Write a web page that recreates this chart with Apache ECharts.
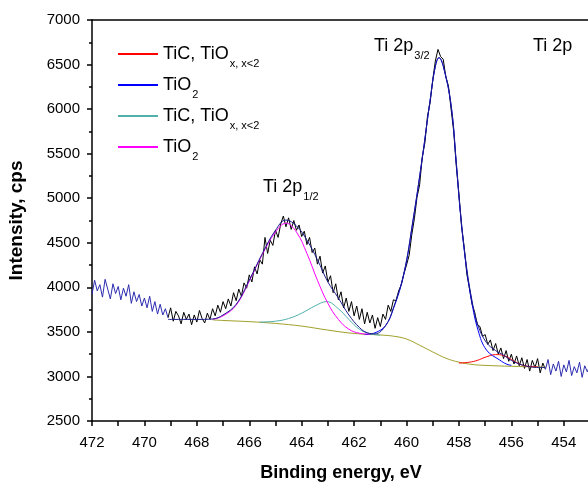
<!DOCTYPE html>
<html>
<head>
<meta charset="utf-8">
<script src="https://cdn.jsdelivr.net/npm/echarts@6/dist/echarts.min.js"></script>
<style>
  html, body { margin: 0; padding: 0; background: #fff; overflow: hidden; }
  #chart { width: 588px; height: 482px; }
</style>
</head>
<body>
<div id="chart"></div>
<script>
// measured spectrum, 0.1 eV steps from 472.0 down to 453.0
const energyStart = 472
const energyStep = 0.1
const rawIntensity = [
  3920, 4080, 3960, 4030, 3890, 4090, 3980, 3870, 4040, 3930, // 472.0
  4010, 3860, 3990, 3900, 4030, 3820, 3950, 3840, 3920, 3790, // 471.0
  3880, 3770, 3900, 3730, 3840, 3700, 3810, 3690, 3760, 3660, // 470.0
  3770, 3620, 3730, 3680, 3590, 3720, 3640, 3700, 3580, 3690, // 469.0
  3610, 3740, 3650, 3600, 3710, 3640, 3760, 3680, 3800, 3720, // 468.0
  3840, 3760, 3870, 3790, 3940, 3850, 3980, 3900, 4050, 3990, // 467.0
  4140, 4060, 4230, 4150, 4310, 4260, 4560, 4380, 4530, 4470, // 466.0
  4640, 4560, 4710, 4800, 4680, 4780, 4650, 4750, 4640, 4700, // 465.0
  4570, 4630, 4480, 4560, 4390, 4440, 4260, 4350, 4160, 4240, // 464.0
  4060, 4130, 3940, 4040, 3860, 3950, 3770, 3880, 3730, 3840, // 463.0
  3680, 3790, 3640, 3760, 3590, 3720, 3600, 3690, 3540, 3660, // 462.0
  3560, 3700, 3640, 3800, 3730, 3860, 3850, 3960, 4030, 4150, // 461.0
  4250, 4360, 4590, 4770, 5010, 5150, 5460, 5620, 5920, 6070, // 460.0
  6330, 6540, 6670, 6590, 6560, 6360, 6260, 6000, 5750, 5360, // 459.0
  5040, 4680, 4450, 4150, 3990, 3810, 3720, 3580, 3560, 3450, // 458.0
  3470, 3360, 3410, 3290, 3370, 3250, 3320, 3200, 3290, 3170, // 457.0
  3250, 3140, 3230, 3120, 3210, 3090, 3190, 3060, 3180, 3100, // 456.0
  3200, 3040, 3150, 3080, 3190, 3020, 3140, 3060, 3170, 3000, // 455.0
  3130, 3050, 3180, 3010, 3110, 3040, 3160, 2990, 3120, 3050, // 454.0
  3140                                                        // 453.0
]

// fitted curves [energy, cps]
const background = [
  [467.4, 3635], [467.0, 3628], [466.0, 3615], [465.0, 3595], [464.0, 3565],
  [463.0, 3520], [462.0, 3482], [461.0, 3465], [460.5, 3452], [460.0, 3420],
  [459.5, 3350], [459.0, 3275], [458.5, 3205], [458.0, 3160], [457.5, 3135],
  [457.0, 3124], [456.0, 3114], [455.0, 3106], [454.7, 3104]
]
const ticMain = [
  [458.0, 3150], [457.6, 3160], [457.3, 3180], [457.0, 3215], [456.6, 3245],
  [456.3, 3235], [456.0, 3190], [455.7, 3140], [455.4, 3115], [455.0, 3108]
]
const tio2Main = [
  [461.6, 3470], [461.2, 3490], [460.8, 3570], [460.5, 3760], [460.1, 4150],
  [459.75, 4750], [459.4, 5450], [459.1, 6100], [458.9, 6480], [458.76, 6575],
  [458.6, 6480], [458.3, 6040], [458.1, 5380], [457.95, 4850], [457.75, 4300],
  [457.52, 3850], [457.27, 3518], [456.95, 3296], [456.44, 3183], [456.18, 3138],
  [456.0, 3125]
]
const ticHalf = [
  [465.6, 3610], [465.0, 3620], [464.5, 3650], [464.0, 3710], [463.5, 3790],
  [463.05, 3840], [462.6, 3760], [462.2, 3640], [461.8, 3530], [461.4, 3480],
  [461.0, 3465]
]
const tio2Half = [
  [467.4, 3640], [467.0, 3680], [466.5, 3800], [466.0, 4070], [465.5, 4370],
  [465.0, 4620], [464.6, 4720], [464.2, 4620], [463.8, 4380], [463.4, 4080],
  [463.0, 3820], [462.6, 3640], [462.2, 3530], [461.8, 3485], [461.4, 3475]
]
const envelope = [
  [469.1, 3640], [468.5, 3640], [468.0, 3640], [467.4, 3645], [467.0, 3690],
  [466.5, 3810], [466.0, 4080], [465.5, 4380], [465.0, 4640], [464.6, 4755],
  [464.2, 4690], [463.8, 4530], [463.4, 4310], [463.0, 4060], [462.6, 3880],
  [462.2, 3690], [461.8, 3550], [461.5, 3490], [461.2, 3478], [460.8, 3570],
  [460.5, 3770], [460.1, 4160], [459.75, 4760], [459.4, 5450], [459.1, 6100],
  [458.9, 6480], [458.76, 6580], [458.6, 6490], [458.3, 6050], [458.1, 5400],
  [457.95, 4870], [457.75, 4320], [457.52, 3880], [457.27, 3570], [456.95, 3380],
  [456.6, 3290], [456.3, 3240], [456.0, 3180], [455.6, 3130], [455.2, 3105],
  [454.7, 3100]
]

const legendText = {
  'TiC 3/2': '{m|TiC, TiO}{s|x, x<2}',
  'TiO2 3/2': '{m|TiO}{s|2}',
  'TiC 1/2': '{m|TiC, TiO}{s|x, x<2}',
  'TiO2 1/2': '{m|TiO}{s|2}'
}

const font = 'Liberation Sans, Arial, sans-serif'
const richSub = {
  m: { fontSize: 18, fontFamily: font, color: '#000', verticalAlign: 'top' },
  s: { fontSize: 11, fontFamily: font, color: '#000', verticalAlign: 'top', padding: [13, 0, 0, 1] }
}
// same look, shifted down so the legend line sits at the middle of the main text
const richLegend = {
  m: { fontSize: 18, fontFamily: font, color: '#000', verticalAlign: 'top', padding: [6, 0, 0, 0] },
  s: { fontSize: 11, fontFamily: font, color: '#000', verticalAlign: 'top', padding: [19, 0, 0, 1] }
}

const rawData = rawIntensity.map((v, i) => [+(energyStart - i * energyStep).toFixed(1), v])

function fitLine(name, data, color) {
  return {
    name: name,
    type: 'line',
    data: data,
    smooth: 0.4,
    showSymbol: false,
    lineStyle: { color: color, width: 1 },
    itemStyle: { color: color }
  }
}

const chart = echarts.init(document.getElementById('chart'), null, { renderer: 'canvas' })
chart.setOption({
  animation: false,
  backgroundColor: '#fff',
  grid: { left: 92, top: 20, right: -2, bottom: 61, outerBoundsMode: 'none' },
  legend: {
    orient: 'vertical',
    left: 113,
    top: 40,
    itemWidth: 40,
    itemHeight: 2,
    itemGap: 7,
    icon: 'rect',
    data: ['TiC 3/2', 'TiO2 3/2', 'TiC 1/2', 'TiO2 1/2'],
    formatter: name => legendText[name],
    textStyle: { rich: richLegend }
  },
  visualMap: {
    show: false,
    type: 'piecewise',
    seriesIndex: 0,
    dimension: 0,
    pieces: [
      { lt: 454.7, color: '#2c2cb0' },
      { gte: 454.7, lte: 469.1, color: '#000' },
      { gt: 469.1, color: '#2c2cb0' }
    ]
  },
  xAxis: [{
    type: 'value',
    inverse: true,
    min: 453,
    max: 472,
    interval: 1,
    name: 'Binding energy, eV',
    nameLocation: 'middle',
    nameGap: 43,
    nameTextStyle: { fontSize: 18, fontWeight: 'bold', fontFamily: font, color: '#000' },
    axisLine: { onZero: false, lineStyle: { color: '#000', width: 1.5 } },
    axisTick: { length: 5, lineStyle: { color: '#000', width: 1.5 } },
    axisLabel: {
      fontSize: 15, fontFamily: font, color: '#000', margin: 14,
      formatter: v => (v % 2 === 0 ? String(v) : '')
    },
    splitLine: { show: false }
  }, {
    type: 'value',
    position: 'top',
    inverse: true,
    min: 453,
    max: 472,
    axisLine: { onZero: false, lineStyle: { color: '#000', width: 1.5 } },
    axisTick: { show: false },
    axisLabel: { show: false },
    splitLine: { show: false }
  }],
  yAxis: {
    type: 'value',
    min: 2500,
    max: 7000,
    interval: 500,
    name: 'Intensity, cps',
    nameLocation: 'middle',
    nameGap: 66,
    nameTextStyle: { fontSize: 19, fontWeight: 'bold', fontFamily: font, color: '#000' },
    axisLine: { show: true, lineStyle: { color: '#000', width: 1.5 } },
    axisTick: { length: 5, lineStyle: { color: '#000', width: 1.5 } },
    minorTick: { show: true, splitNumber: 2, length: 3, lineStyle: { color: '#000', width: 1.5 } },
    axisLabel: { fontSize: 15, fontFamily: font, color: '#000', margin: 12, formatter: v => String(v) },
    splitLine: { show: false }
  },
  graphic: [
    {
      type: 'text', left: 263, top: 178,
      style: { text: '{m|Ti 2p}{s|1/2}', rich: richSub }
    },
    {
      type: 'text', left: 374, top: 37,
      style: { text: '{m|Ti 2p}{s|3/2}', rich: richSub }
    },
    {
      type: 'text', left: 533, top: 37,
      style: { text: 'Ti 2p', fontSize: 18, fontFamily: font, fill: '#000' }
    }
  ],
  series: [
    {
      name: 'raw',
      type: 'line',
      data: rawData,
      showSymbol: false,
      lineStyle: { width: 1 }
    },
    fitLine('bg', background, '#a0a02a'),
    fitLine('TiC 3/2', ticMain, '#ff0000'),
    fitLine('TiO2 3/2', tio2Main, '#0000ff'),
    fitLine('TiC 1/2', ticHalf, '#4fb0ac'),
    fitLine('TiO2 1/2', tio2Half, '#ff00ff'),
    fitLine('envelope', envelope, '#1c1c8c')
  ]
})
</script>
</body>
</html>
